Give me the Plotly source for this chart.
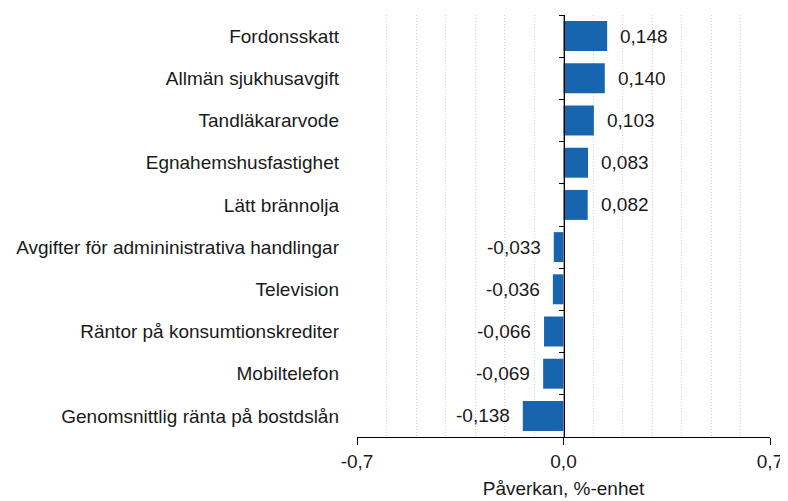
import plotly.graph_objects as go

categories = ["Fordonsskatt", "Allmän sjukhusavgift", "Tandläkararvode",
              "Egnahemshusfastighet", "Lätt brännolja",
              "Avgifter för admininistrativa handlingar", "Television",
              "Räntor på konsumtionskrediter", "Mobiltelefon",
              "Genomsnittlig ränta på bostdslån"]
values = [0.148, 0.140, 0.103, 0.083, 0.082, -0.033, -0.036, -0.066, -0.069, -0.138]
tick_vals = [-0.7, 0.0, 0.7]
tick_text = ["-0,7", "0,0", "0,7"]
axis_title = "Påverkan, %-enhet"

FONT = "Liberation Sans, Arial, sans-serif"
FS = 19
TXT = "#1a1a1a"
BAR = "#1865AF"

fig = go.Figure()
fig.add_trace(go.Bar(
    x=values, y=categories, orientation="h", marker=dict(color=BAR, line=dict(width=0)),
    yaxis="y", hoverinfo="skip", showlegend=False,
))
fig.add_trace(go.Scatter(
    x=[0] * len(categories), y=categories, yaxis="y2", mode="markers",
    marker=dict(opacity=0), hoverinfo="skip", showlegend=False,
))

labels = [f"{v:.3f}".replace(".", ",") for v in values]
for c, v, t in zip(categories, values, labels):
    fig.add_annotation(
        x=v, y=c, yref="y", text=t, showarrow=False,
        xanchor="left" if v >= 0 else "right",
        xshift=11 if v >= 0 else -11,
        font=dict(family=FONT, size=FS, color=TXT),
    )

# page body has an 8px margin, so the figure is drawn from (8, 8)
fig.update_layout(
    width=780, height=493,
    margin=dict(l=349, r=18, t=7, b=64),
    paper_bgcolor="white", plot_bgcolor="white",
    bargap=0.29,
    font=dict(family=FONT, size=FS, color=TXT),
    xaxis=dict(
        range=[-0.7, 0.7], tickvals=tick_vals, ticktext=tick_text,
        showgrid=True, gridcolor="#a8a8a8", gridwidth=1,
        minor=dict(dtick=0.1, tick0=0, showgrid=True, gridcolor="#cfcfcf",
                   griddash="1px,2px", gridwidth=1, ticks=""),
        ticks="outside", ticklen=7, tickcolor="#000", tickwidth=1,
        showline=True, linecolor="#000", linewidth=1,
        zeroline=False, fixedrange=True, automargin=False,
        title=dict(text=axis_title, font=dict(family=FONT, size=FS, color=TXT), standoff=10),
        tickfont=dict(family=FONT, size=FS, color=TXT),
    ),
    yaxis=dict(
        type="category", categoryorder="array", categoryarray=categories,
        range=[len(categories) - 0.5, -0.5],
        anchor="free", position=0.5, side="left",
        showticklabels=False, showgrid=False, zeroline=False,
        ticks="outside", tickson="boundaries", ticklen=5, tickcolor="#000",
        showline=True, linecolor="#000", linewidth=1, automargin=False,
    ),
    yaxis2=dict(
        type="category", categoryorder="array", categoryarray=categories,
        range=[len(categories) - 0.5, -0.5],
        overlaying="y", anchor="x", side="left",
        showticklabels=True, ticks="", showgrid=False, zeroline=False,
        showline=False, ticklabelstandoff=17, automargin=False,
        tickfont=dict(family=FONT, size=FS, color=TXT),
    ),
)

fig.write_html("out.html")
